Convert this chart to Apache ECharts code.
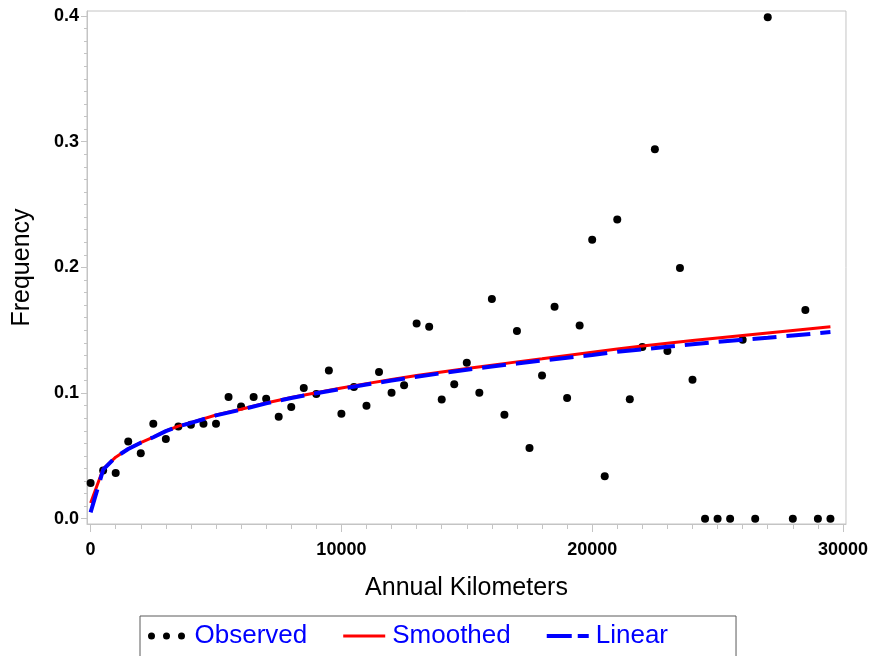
<!DOCTYPE html>
<html>
<head>
<meta charset="utf-8">
<script src="https://cdn.jsdelivr.net/npm/echarts@6/dist/echarts.min.js"></script>
<style>
html,body{margin:0;padding:0;background:#fff;}
#chart{width:871px;height:656px;}
</style>
</head>
<body>
<div id="chart"></div>
<script>
// Observed points
var obsX = [0,500,1000,1500,2000,2500,3000,3500,4000,4500,5000,5500,6000,6500,7000,7500,8000,8500,9000,9500,
  10000,10500,11000,11500,12000,12500,13000,13500,14000,14500,15000,15500,16000,16500,17000,17500,18000,18500,19000,19500,
  20000,20500,21000,21500,22000,22500,23000,23500,24000,24500,25000,25500,26000,26500,27000,28000,28500,29000,29500];
var obsY = [0.0284,0.0384,0.0364,0.0615,0.052,0.0756,0.0634,0.0734,0.0748,0.0756,0.0756,0.0968,0.0893,0.0968,0.0955,0.0811,0.0889,0.104,0.0992,0.118,
  0.0835,0.1048,0.0899,0.1168,0.1002,0.1063,0.1554,0.1527,0.0949,0.1071,0.1241,0.1002,0.1748,0.0827,0.1493,0.0562,0.114,0.1687,0.096,0.1538,
  0.222,0.0337,0.238,0.095,0.1367,0.294,0.1335,0.1995,0.1106,0,0,0,0.1424,0,0.399,0,0.166,0,0];

// Fitted curves
var fitX = [0,500,1000,1500,2000,2500,3000,3500,4000,5000,6000,7000,8000,9000,10000,11000,12000,13000,14000,15000,
  16000,17000,18000,19000,20000,21000,22000,23000,24000,25000,26000,27000,28000,29000,29500];
var smoothY = [0.0125,0.0395,0.049,0.0556,0.0606,0.065,0.0698,0.0737,0.0765,0.0825,0.0871,0.0921,0.0964,0.1003,0.104,0.1075,0.1108,0.1139,0.1168,0.1196,
  0.1222,0.1248,0.1273,0.1299,0.1325,0.135,0.1375,0.1397,0.1418,0.1438,0.1458,0.1478,0.1498,0.1518,0.1528];
var linearY = [0.005,0.039,0.049,0.0555,0.0605,0.0648,0.0697,0.0735,0.0762,0.0822,0.0868,0.0918,0.096,0.0998,0.1034,0.1068,0.11,0.113,0.1158,0.1185,
  0.1211,0.1235,0.1259,0.1281,0.1303,0.1328,0.1348,0.1368,0.1388,0.1407,0.1425,0.1440,0.1458,0.1476,0.1485];

// Tick labels
var xTicks = [0,10000,20000,30000];
var yTicks = [0,0.1,0.2,0.3,0.4];

var xMinor = []; for (var i = 0; i <= 30; i++) xMinor.push(i*1000);
var yMinor = []; for (var j = 0; j <= 40; j++) yMinor.push(+(j*0.01).toFixed(2));

var XMIN = -144, XMAX = 30120, YMIN = -0.0042, YMAX = 0.404;
var FONT = "'Liberation Sans', Arial, sans-serif";
var GREY = '#c4c4c4';

function pairs(xs, ys){ return xs.map(function(x,i){ return [x, ys[i]]; }); }

var chart = echarts.init(document.getElementById('chart'), null, {renderer:'canvas'});
chart.setOption({
  animation: false,
  backgroundColor: '#fff',
  grid: {left: 87, right: 25, top: 11, bottom: 132, show: true, borderColor: GREY, borderWidth: 1, backgroundColor: 'transparent'},
  xAxis: [{
    type: 'value', min: XMIN, max: XMAX, position: 'bottom',
    name: 'Annual Kilometers', nameLocation: 'middle', nameGap: 52,
    nameTextStyle: {fontFamily: FONT, fontSize: 25, color: '#000'},
    axisLine: {show: true, onZero: false, lineStyle: {color: GREY, width: 1}},
    axisTick: {show: true, length: 8, customValues: xTicks, lineStyle: {color: GREY}},
    axisLabel: {customValues: xTicks, margin: 17, fontFamily: FONT, fontSize: 18, fontWeight: 'bold', color: '#000',
      formatter: function(v){ return String(v); }},
    splitLine: {show: false}
  },{
    type: 'value', min: XMIN, max: XMAX, position: 'bottom',
    axisLine: {show: false, onZero: false},
    axisTick: {show: true, length: 5, customValues: xMinor, lineStyle: {color: GREY}},
    axisLabel: {show: false},
    splitLine: {show: false}
  }],
  yAxis: [{
    type: 'value', min: YMIN, max: YMAX, position: 'left',
    name: 'Frequency', nameLocation: 'middle', nameGap: 52,
    nameTextStyle: {fontFamily: FONT, fontSize: 25, color: '#000'},
    axisLine: {show: true, onZero: false, lineStyle: {color: GREY, width: 1}},
    axisTick: {show: true, length: 6, customValues: yTicks, lineStyle: {color: GREY}},
    axisLabel: {customValues: yTicks, margin: 8, fontFamily: FONT, fontSize: 18, fontWeight: 'bold', color: '#000',
      formatter: function(v){ return v.toFixed(1); }},
    splitLine: {show: false}
  },{
    type: 'value', min: YMIN, max: YMAX, position: 'left',
    axisLine: {show: false, onZero: false},
    axisTick: {show: true, length: 3, customValues: yMinor, lineStyle: {color: GREY}},
    axisLabel: {show: false},
    splitLine: {show: false}
  }],
  legend: {
    left: 140, top: 616,
    orient: 'horizontal',
    padding: [7, 68, 40, 8],
    borderColor: '#5a5a5a', borderWidth: 1,
    itemWidth: 42, itemHeight: 7, itemGap: 36,
    symbolKeepAspect: true,
    textStyle: {fontFamily: FONT, fontSize: 26, color: '#0000ff', padding: [0, 0, 0, 2]},
    data: [
      {name: 'Observed', icon: 'path://M0,3.5a3.5,3.5 0 1,0 7,0a3.5,3.5 0 1,0 -7,0ZM15,3.5a3.5,3.5 0 1,0 7,0a3.5,3.5 0 1,0 -7,0ZM30,3.5a3.5,3.5 0 1,0 7,0a3.5,3.5 0 1,0 -7,0Z', itemStyle: {color: '#000'}},
      {name: 'Smoothed', icon: 'path://M0,0L39,0L39,3L0,3Z', itemStyle: {color: '#ff0000'}},
      {name: 'Linear', icon: 'path://M0,0L25,0L25,4L0,4ZM31,0L42,0L42,4L31,4Z', itemStyle: {color: '#0000ff'}}
    ]
  },
  series: [{
    name: 'Observed', type: 'scatter', xAxisIndex: 0, yAxisIndex: 0,
    data: pairs(obsX, obsY), symbol: 'circle', symbolSize: 8,
    itemStyle: {color: '#000', opacity: 1}, z: 2
  },{
    name: 'Smoothed', type: 'line', xAxisIndex: 0, yAxisIndex: 0,
    data: pairs(fitX, smoothY), showSymbol: false, symbol: 'none',
    lineStyle: {color: '#ff0000', width: 3}, itemStyle: {color: '#ff0000'}, z: 3
  },{
    name: 'Linear', type: 'line', xAxisIndex: 0, yAxisIndex: 0,
    data: pairs(fitX, linearY), showSymbol: false, symbol: 'none',
    lineStyle: {color: '#0000ff', width: 4, type: [24, 10]}, itemStyle: {color: '#0000ff'}, z: 4
  }]
});
</script>
</body>
</html>
